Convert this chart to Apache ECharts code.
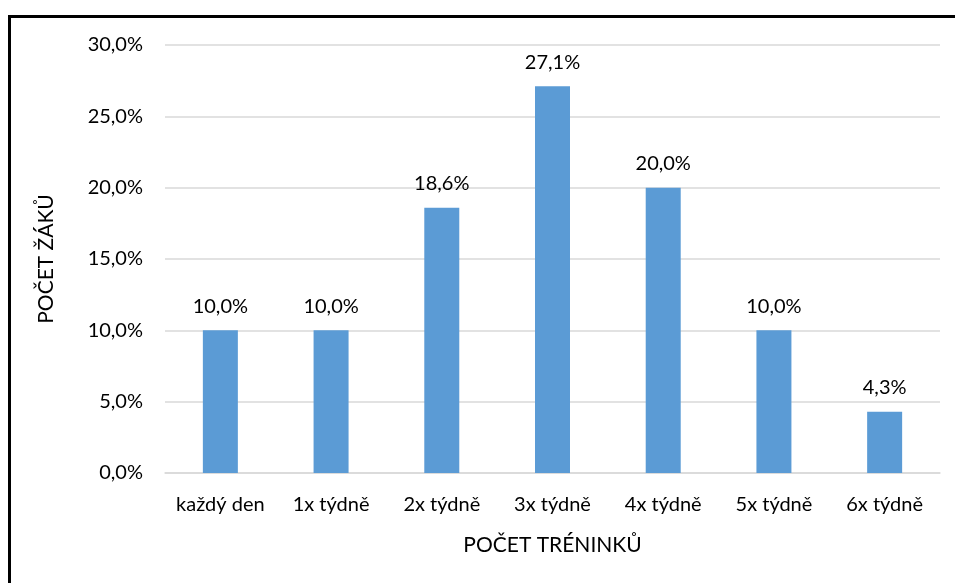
<!DOCTYPE html>
<html>
<head>
<meta charset="utf-8">
<script src="https://cdn.jsdelivr.net/npm/echarts@6/dist/echarts.min.js"></script>
<style>
  html, body { margin: 0; padding: 0; background: #fff; }
  #chart { width: 955px; height: 583px; }
  .frame {
    position: absolute;
    left: 8px;
    top: 15px;
    width: 960px;
    height: 580px;
    border-left: 3px solid #000;
    border-top: 3px solid #000;
    pointer-events: none;
  }
</style>
</head>
<body>
<div id="chart"></div>
<div class="frame"></div>
<script>
// data
const categories = ['každý den', '1x týdně', '2x týdně', '3x týdně', '4x týdně', '5x týdně', '6x týdně']
const shares = [10.0, 10.0, 18.6, 27.1, 20.0, 10.0, 4.3]

const fontFamily = 'Lato, "Open Sans", sans-serif'
const pct = (v) => v.toFixed(1).replace('.', ',') + '%'

const chart = echarts.init(document.getElementById('chart'))
chart.setOption({
  animation: false,
  textStyle: { fontFamily: fontFamily },
  grid: { left: 165, right: 15, top: 45, bottom: 110 },
  xAxis: {
    type: 'category',
    data: categories,
    name: 'POČET TRÉNINKŮ',
    nameLocation: 'middle',
    nameGap: 62,
    nameTextStyle: { fontSize: 21, color: '#000', fontFamily: fontFamily },
    axisLine: { lineStyle: { color: '#d9d9d9', width: 1.5 } },
    axisTick: { show: false },
    axisLabel: { fontSize: 20, color: '#000', margin: 22, interval: 0 }
  },
  yAxis: {
    type: 'value',
    min: 0,
    max: 30,
    interval: 5,
    name: 'POČET ŽÁKŮ',
    nameLocation: 'middle',
    nameGap: 108,
    nameTextStyle: { fontSize: 21, color: '#000', fontFamily: fontFamily },
    axisLabel: { fontSize: 20, color: '#000', margin: 22, formatter: pct },
    splitLine: { lineStyle: { color: '#d9d9d9', width: 1.5 } }
  },
  series: [
    {
      type: 'bar',
      data: shares,
      barWidth: 35,
      itemStyle: { color: '#5b9bd5' },
      label: {
        show: true,
        position: 'top',
        distance: 14,
        fontSize: 20,
        color: '#000',
        formatter: (p) => pct(p.value)
      }
    }
  ]
})
</script>
</body>
</html>
